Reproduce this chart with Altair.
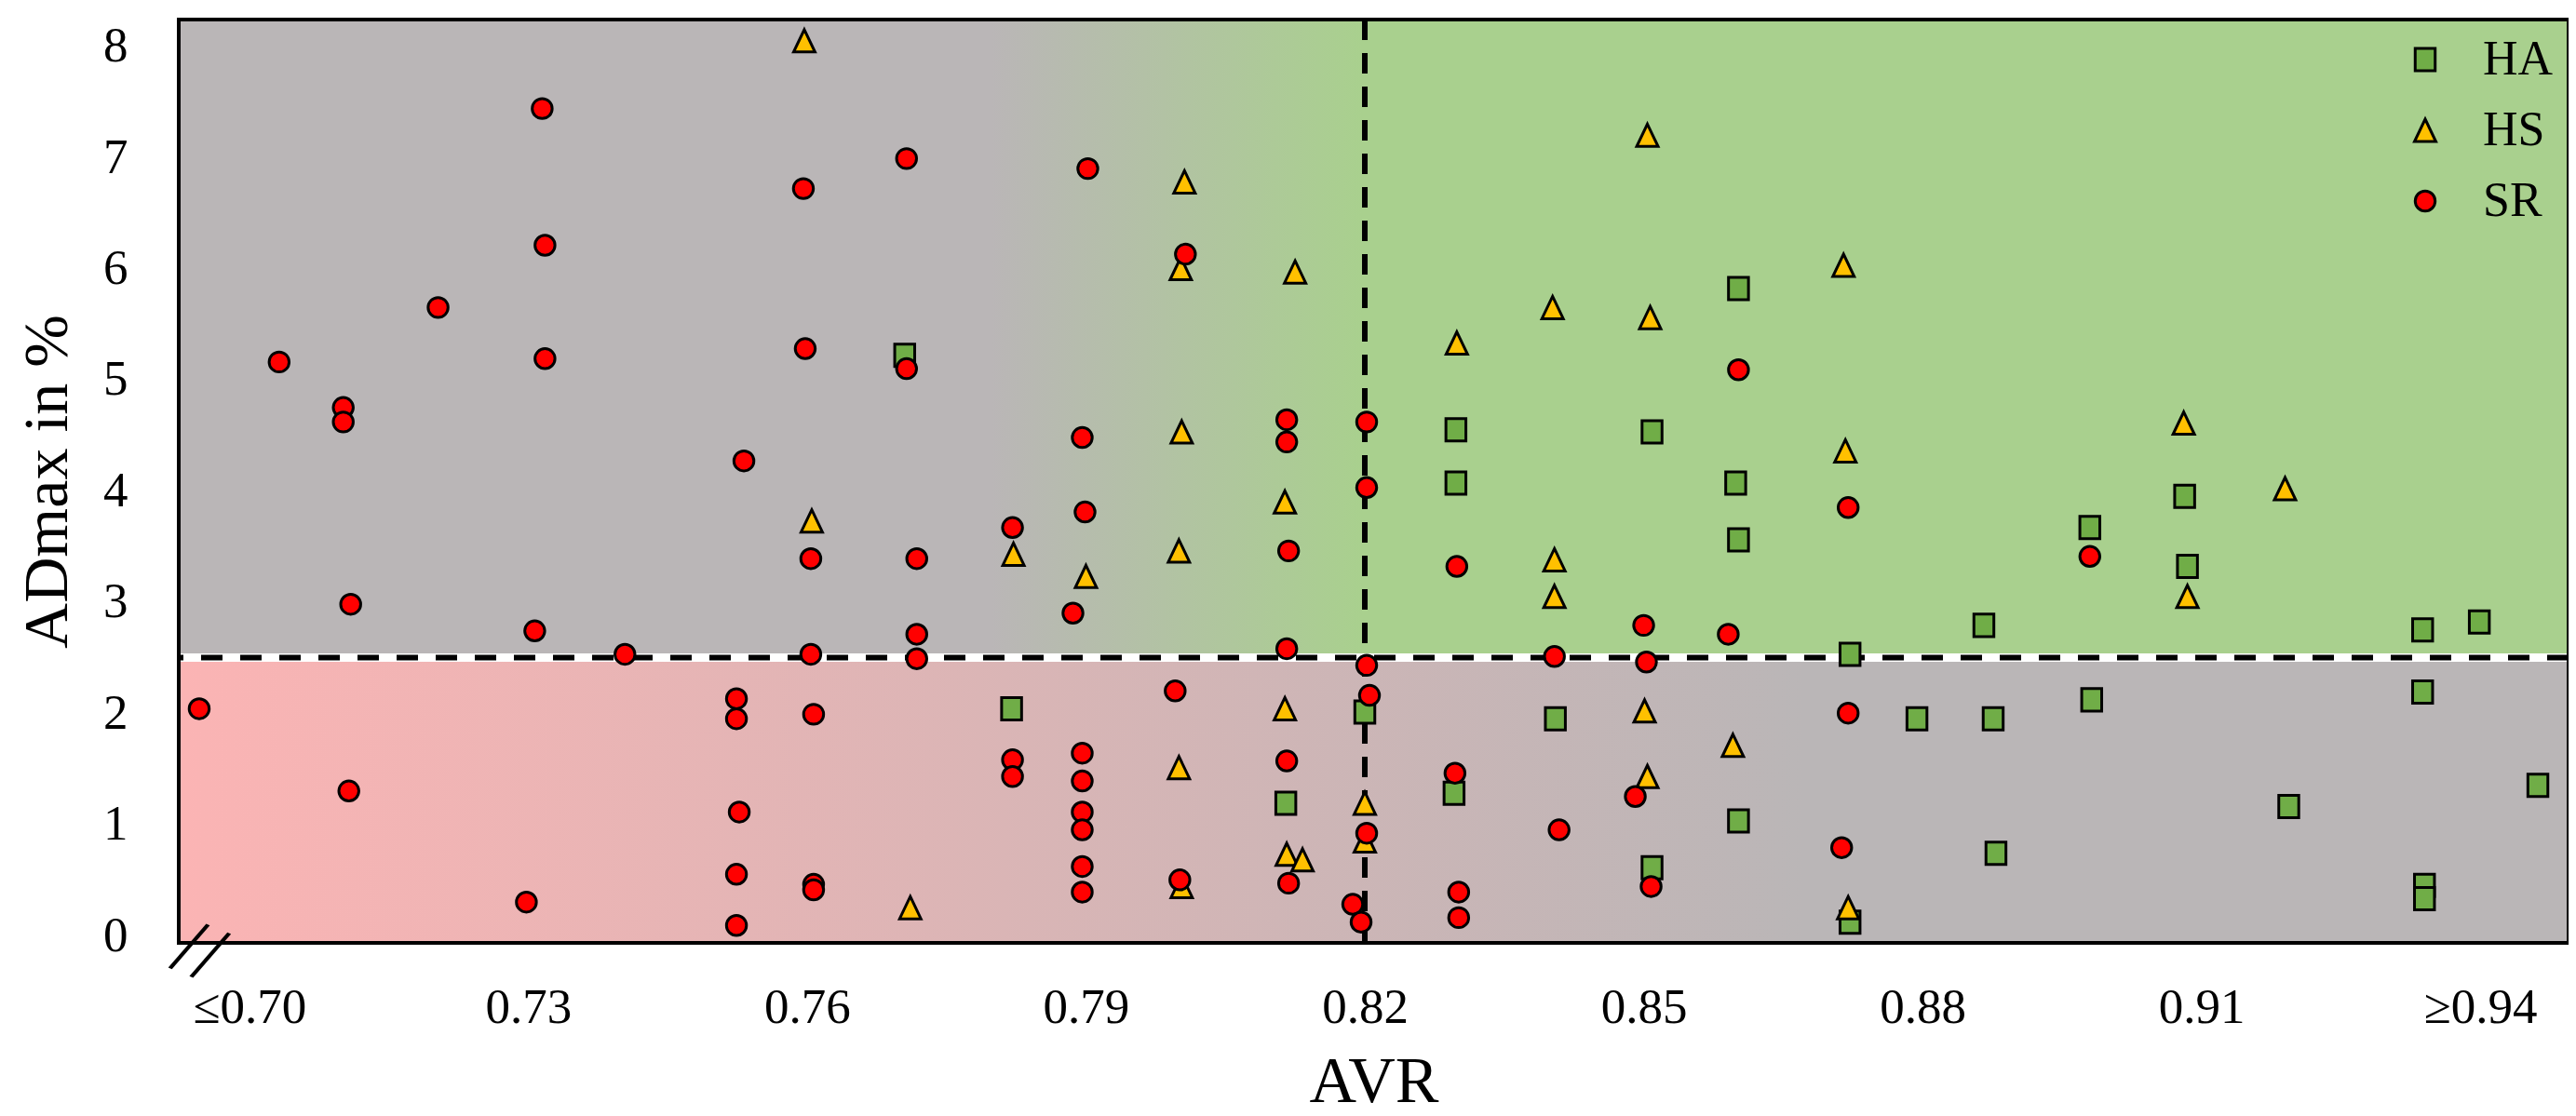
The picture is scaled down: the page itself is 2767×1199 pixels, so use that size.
import altair as alt
import pandas as pd

# ---- data ----
HA_X = [0.7705, 0.782, 0.8115, 0.82, 0.8298, 0.8298, 0.8296, 0.8405, 0.8509, 0.8509,
        0.8602, 0.8599, 0.8602, 0.8602, 0.8722, 0.8722, 0.8794, 0.8866, 0.8876, 0.8879,
        0.898, 0.8982, 0.9082, 0.9085, 0.9194, 0.9338, 0.9338, 0.934, 0.934, 0.9399, 0.9462]
HA_Y = [5.22, 2.04, 1.19, 2.01, 4.55, 4.07, 1.28, 1.95, 4.53, 0.61,
        5.82, 4.07, 3.56, 1.03, 2.53, 0.12, 1.95, 2.79, 1.95, 0.74,
        3.67, 2.12, 3.95, 3.32, 1.16, 2.75, 2.19, 0.45, 0.33, 2.82, 1.35]

HS_X = [0.7597, 0.7605, 0.7711, 0.7822, 0.79, 0.8006, 0.8002, 0.8003, 0.8, 0.8,
        0.8003, 0.8125, 0.8114, 0.8114, 0.8116, 0.8133, 0.82, 0.82, 0.8299, 0.8402,
        0.8404, 0.8404, 0.8504, 0.8507, 0.8501, 0.8504, 0.8596, 0.8715, 0.8717, 0.872,
        0.9081, 0.9085, 0.919]
HS_Y = [8.05, 3.73, 0.25, 3.43, 3.23, 6.78, 6.00, 4.53, 3.46, 1.51,
        0.44, 5.97, 3.90, 2.04, 0.73, 0.68, 1.19, 0.85, 5.33, 5.65,
        3.38, 3.05, 7.20, 5.56, 2.02, 1.43, 1.71, 6.03, 4.36, 0.25,
        4.61, 3.05, 4.02]

SR_X = [0.7315, 0.7596, 0.7318, 0.7203, 0.7032, 0.7318, 0.7598, 0.7101, 0.7101, 0.7532,
        0.7604, 0.7109, 0.7307, 0.7404, 0.7604, 0.6946, 0.7524, 0.7524, 0.7607, 0.7107,
        0.7527, 0.7298, 0.7524, 0.7524, 0.7607, 0.7607, 0.7707, 0.7902, 0.8007, 0.7707,
        0.7896, 0.8116, 0.8116, 0.8202, 0.8202, 0.7899, 0.7821, 0.7718, 0.8118, 0.8299,
        0.7886, 0.7718, 0.7718, 0.8116, 0.8202, 0.7996, 0.8205, 0.7821, 0.7821, 0.7896,
        0.7896, 0.7896, 0.7896, 0.7896, 0.7896, 0.8116, 0.8202, 0.8118, 0.8001, 0.8187,
        0.8196, 0.8301, 0.8301, 0.8297, 0.85, 0.8591, 0.8602, 0.872, 0.898, 0.8404,
        0.8503, 0.872, 0.8491, 0.8409, 0.8713, 0.8508]
SR_Y = [7.44, 6.72, 6.21, 5.65, 5.16, 5.19, 5.28, 4.75, 4.62, 4.27,
        3.39, 2.98, 2.74, 2.53, 2.53, 2.04, 2.13, 1.95, 1.99, 1.30,
        1.11, 0.30, 0.55, 0.09, 0.46, 0.41, 6.99, 6.90, 6.13, 5.10,
        4.48, 4.64, 4.44, 4.62, 4.03, 3.81, 3.67, 3.39, 3.46, 3.32,
        2.90, 2.71, 2.49, 2.58, 2.43, 2.20, 2.16, 1.58, 1.43, 1.64,
        1.39, 1.11, 0.95, 0.62, 0.39, 1.57, 0.92, 0.47, 0.50, 0.28,
        0.12, 0.39, 0.16, 1.46, 2.79, 2.71, 5.09, 3.85, 3.41, 2.51,
        2.46, 2.00, 1.25, 0.95, 0.79, 0.44]

SERIES = ["HA", "HS", "SR"]
FILLS = ["#70ad47", "#ffc000", "#ff0000"]
OUTLINES = ["black", "black", "black"]
SQUARE = "M-1,-1.12L1,-1.12L1,1.12L-1,1.12Z"
TRIANGLE = "M0,-1.12L1.07,1.12L-1.07,1.12Z"
SHAPES = [SQUARE, TRIANGLE, "circle"]
MARK_SIZE = 460

X_DOMAIN = [0.6924, 0.9495]
Y_DOMAIN = [-0.067, 8.241]
X_TICKS = [0.70, 0.73, 0.76, 0.79, 0.82, 0.85, 0.88, 0.91, 0.94]
Y_TICKS = [0, 1, 2, 3, 4, 5, 6, 7, 8]
AVR_LIMIT = 0.82
AD_LIMIT = 2.5

FONT = "Liberation Serif"

# ---- tables ----
pts = pd.concat([
    pd.DataFrame({"avr": HA_X, "ad": HA_Y, "type": "HA"}),
    pd.DataFrame({"avr": HS_X, "ad": HS_Y, "type": "HS"}),
    pd.DataFrame({"avr": SR_X, "ad": SR_Y, "type": "SR"}),
], ignore_index=True)

frame = pd.DataFrame({
    "x0": [X_DOMAIN[0]], "x1": [X_DOMAIN[1]],
    "ylo": [Y_DOMAIN[0]], "yhi": [Y_DOMAIN[1]],
    "ythr": [AD_LIMIT], "xthr": [AVR_LIMIT],
})

xs = alt.Scale(domain=X_DOMAIN, nice=False, zero=False)
ys = alt.Scale(domain=Y_DOMAIN, nice=False, zero=False)

X_AXIS = alt.Axis(
    values=X_TICKS,
    labelExpr="datum.value <= 0.701 ? '≤0.70' : (datum.value >= 0.939 ? '≥0.94' : format(datum.value, '.2f'))",
    title="AVR", ticks=False, tickSize=0, domain=False, grid=False,
    labelFontSize=53, labelPadding=43, labelFlush=False, labelOverlap=False,
    titleFontSize=70, titleFontWeight="normal", titleBaseline="alphabetic", titleY=170,
)
Y_AXIS = alt.Axis(
    values=Y_TICKS, title="ADmax in %", ticks=False, tickSize=0, domain=False, grid=False,
    labelFontSize=53, labelPadding=55, labelFlush=False, labelOverlap=False,
    titleFontSize=68, titleFontWeight="normal", titleBaseline="alphabetic", titleX=-121,
)

def xenc(field):
    return alt.X(field, type="quantitative", scale=xs, axis=X_AXIS)

def yenc(field):
    return alt.Y(field, type="quantitative", scale=ys, axis=Y_AXIS)

base = alt.Chart(frame)

top_band = base.mark_rect(
    fill=alt.Gradient(
        gradient="linear", x1=0, x2=1, y1=0, y2=0,
        stops=[
            alt.GradientStop(color="#bab6b7", offset=0),
            alt.GradientStop(color="#bab6b7", offset=0.34),
            alt.GradientStop(color="#a9d08e", offset=0.495),
            alt.GradientStop(color="#a9d08e", offset=1),
        ],
    )
).encode(x=xenc("x0"), x2="x1", y=yenc("ythr"), y2="yhi")

bottom_band = base.mark_rect(
    fill=alt.Gradient(
        gradient="linear", x1=0, x2=1, y1=0, y2=0,
        stops=[
            alt.GradientStop(color="#fbb4b4", offset=0),
            alt.GradientStop(color="#bab6b7", offset=0.68),
            alt.GradientStop(color="#bab6b7", offset=1),
        ],
    )
).encode(x=xenc("x0"), x2="x1", y=yenc("ylo"), y2="ythr")

white_rule = base.mark_rule(color="white", strokeWidth=9).encode(y=yenc("ythr"))
h_rule = base.mark_rule(color="black", strokeWidth=6, strokeDash=[23, 19]).encode(y=yenc("ythr"))
v_rule = base.mark_rule(color="black", strokeWidth=6, strokeDash=[22, 14]).encode(x=xenc("xthr"))

border = base.mark_rect(filled=False, stroke="black", strokeWidth=4).encode(
    x=xenc("x0"), x2="x1", y=yenc("ylo"), y2="yhi"
)

break_mark = base.mark_text(
    text="//", font=FONT, fontSize=88, angle=22, dx=24, dy=2,
    color="black", align="center", baseline="middle",
).encode(x=xenc("x0"), y=yenc("ylo"))

legend = alt.Legend(
    title=None, orient="none", legendX=2387, legendY=17, padding=0,
    symbolSize=MARK_SIZE, symbolStrokeColor="black", symbolStrokeWidth=3, symbolOpacity=1,
    labelFont=FONT, labelFontSize=52, labelColor="black", labelOffset=36, rowPadding=24,
)

points = alt.Chart(pts).mark_point(
    filled=True, strokeWidth=3, opacity=1, size=MARK_SIZE
).encode(
    x=xenc("avr"),
    y=yenc("ad"),
    fill=alt.Fill("type:N", scale=alt.Scale(domain=SERIES, range=FILLS), legend=legend),
    shape=alt.Shape("type:N", scale=alt.Scale(domain=SERIES, range=SHAPES), legend=legend),
    stroke=alt.Stroke("type:N", scale=alt.Scale(domain=SERIES, range=OUTLINES), legend=legend),
)

chart = alt.layer(
    top_band, bottom_band, white_rule, h_rule, v_rule, border, points, break_mark
).properties(
    width=2567, height=992,
    padding={"left": 184, "top": 13, "right": 0, "bottom": 186},
    autosize=alt.AutoSizeParams(type="none"),
    background="white",
).configure_view(
    stroke=None
).configure_axis(
    labelFont=FONT, titleFont=FONT, labelColor="black", titleColor="black",
).configure_legend(
    labelFont=FONT,
)

chart.save("out.html", embed_options={"renderer": "svg", "actions": False})
